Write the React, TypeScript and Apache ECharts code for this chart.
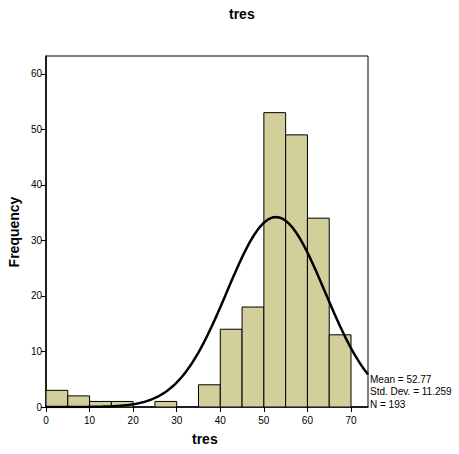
import React, { useEffect, useRef } from "react";
import * as echarts from "echarts";

const binStarts = [0, 5, 10, 15, 20, 25, 30, 35, 40, 45, 50, 55, 60, 65];
const binWidth = 5;
const frequencies = [3, 2, 1, 1, 0, 1, 0, 4, 14, 18, 53, 49, 34, 13];
const xTicks = [0, 10, 20, 30, 40, 50, 60, 70];
const yTicks = [0, 10, 20, 30, 40, 50, 60];
const mean = 52.77;
const stdDev = 11.259;
const n = 193;
const statLines = ["Mean = 52.77", "Std. Dev. = 11.259", "N = 193"];

const X_MAX = 73.9;
const Y_MAX = 63.2;
const FONT = "'Liberation Sans', Arial, Helvetica, sans-serif";

export default function App() {
  const ref = useRef<HTMLDivElement>(null);
  useEffect(() => {
    if (!ref.current) return;
    const chart = echarts.init(ref.current, null, { renderer: "svg" });
    const bars = binStarts.map((s, i) => [s, s + binWidth, frequencies[i]]);
    const curve: number[][] = [];
    const steps = 300;
    for (let i = 0; i <= steps; i++) {
      const x = (X_MAX * i) / steps;
      const z = (x - mean) / stdDev;
      const y = (n * binWidth) / (stdDev * Math.sqrt(2 * Math.PI)) * Math.exp(-0.5 * z * z);
      curve.push([x, y]);
    }
    chart.setOption({
      animation: false,
      backgroundColor: "#ffffff",
      textStyle: { fontFamily: FONT },
      grid: {
        left: 46,
        top: 56,
        width: 322,
        height: 351,
        show: true,
        borderColor: "#000",
        borderWidth: 1,
        backgroundColor: "transparent",
      },
      xAxis: {
        type: "value",
        min: 0,
        max: X_MAX,
        interval: 10,
        splitLine: { show: false },
        axisLine: { show: true, onZero: false, lineStyle: { color: "#000", width: 1.5 } },
        axisTick: { show: true, length: 5, lineStyle: { color: "#000" }, customValues: xTicks },
        axisLabel: { color: "#000", fontSize: 10, margin: 8, fontFamily: FONT, customValues: xTicks },
      },
      yAxis: {
        type: "value",
        min: 0,
        max: Y_MAX,
        interval: 10,
        splitLine: { show: false },
        axisLine: { show: true, lineStyle: { color: "#000", width: 1.5 } },
        axisTick: { show: true, length: 5, lineStyle: { color: "#000" }, customValues: yTicks },
        axisLabel: { color: "#000", fontSize: 10, margin: 4, fontFamily: FONT, customValues: yTicks },
      },
      graphic: [
        {
          type: "text",
          left: 229,
          top: 7,
          style: { text: "tres", font: `bold 14px ${FONT}`, fill: "#000" },
        },
        {
          type: "text",
          left: 192,
          top: 432,
          style: { text: "tres", font: `bold 14px ${FONT}`, fill: "#000" },
        },
        {
          type: "text",
          x: 14,
          y: 232,
          rotation: Math.PI / 2,
          style: {
            text: "Frequency",
            font: `bold 14px ${FONT}`,
            fill: "#000",
            align: "center",
            verticalAlign: "middle",
          },
        },
        ...statLines.map((t, i) => ({
          type: "text",
          x: 370,
          y: 379 + i * 12.5,
          style: {
            text: t,
            font: `10px ${FONT}`,
            fill: "#000",
            align: "left",
            verticalAlign: "middle",
          },
        })),
      ],
      series: [
        {
          type: "custom",
          data: bars,
          encode: { x: [0, 1], y: 2 },
          clip: true,
          renderItem: (params: any, api: any) => {
            const x0 = api.value(0);
            const x1 = api.value(1);
            const v = api.value(2);
            if (!v) return null;
            const p0 = api.coord([x0, v]);
            const p1 = api.coord([x1, 0]);
            return {
              type: "rect",
              shape: { x: p0[0], y: p0[1], width: p1[0] - p0[0], height: p1[1] - p0[1] },
              style: { fill: "#D3CF9B", stroke: "#000", lineWidth: 1 },
            };
          },
          z: 2,
        },
        {
          type: "line",
          data: curve,
          showSymbol: false,
          symbol: "none",
          smooth: false,
          clip: true,
          lineStyle: { color: "#000", width: 2.5 },
          z: 3,
        },
      ],
    });
    return () => chart.dispose();
  }, []);
  return <div ref={ref} style={{ width: 459, height: 454, position: "absolute", left: 0, top: 0 }} />;
}
